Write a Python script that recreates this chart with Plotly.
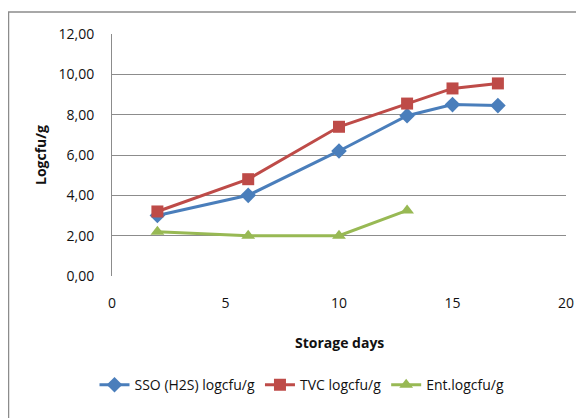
import plotly.graph_objects as go

days_sso = [2, 6, 10, 13, 15, 17]
sso = [3.0, 4.0, 6.2, 7.95, 8.5, 8.45]
days_tvc = [2, 6, 10, 13, 15, 17]
tvc = [3.2, 4.8, 7.4, 8.55, 9.3, 9.55]
days_ent = [2, 6, 10, 13]
ent = [2.2, 2.0, 2.0, 3.25]

fig = go.Figure()
fig.add_trace(go.Scatter(x=days_sso, y=sso, name="SSO (H2S) logcfu/g", mode="lines+markers",
                         line=dict(color="#4A7EBB", width=3),
                         marker=dict(symbol="diamond", size=12, color="#4A7EBB")))
fig.add_trace(go.Scatter(x=days_tvc, y=tvc, name="TVC logcfu/g", mode="lines+markers",
                         line=dict(color="#BE4B48", width=3),
                         marker=dict(symbol="square", size=12, color="#BE4B48")))
fig.add_trace(go.Scatter(x=days_ent, y=ent, name="Ent.logcfu/g", mode="lines+markers",
                         line=dict(color="#98B954", width=3),
                         marker=dict(symbol="triangle-up", size=12, color="#98B954")))

font = "Open Sans, Liberation Sans, Arial"
# page has an 8px body margin; image coords = figure coords + 8
OFF = 8
PL, PR, PT, PB = 112, 566, 34, 276  # plot area in image pixels
W, H = PR - PL, PB - PT
fig.update_layout(
    width=584, height=418,
    margin=dict(l=PL - OFF, r=584 - (PR - OFF), t=PT - OFF, b=418 - (PB - OFF), autoexpand=False),
    paper_bgcolor="white", plot_bgcolor="white",
    separators=",.",
    font=dict(family=font, size=12, color="#111"),
    showlegend=True,
    legend=dict(orientation="h", x=(302 - PL) / W, xanchor="center", y=-0.385, yanchor="top",
                font=dict(size=14), tracegroupgap=0),
    xaxis=dict(range=[0, 20], dtick=5, showgrid=False, zeroline=False,
               showline=False, ticks="", tickfont=dict(size=14),
               ticklabelstandoff=17, automargin=False),
    yaxis=dict(range=[0, 12], dtick=2, tickformat=".2f", showgrid=True,
               gridcolor="#8c8c8c", gridwidth=1, zeroline=False,
               showline=True, linecolor="#8c8c8c", linewidth=1, ticks="",
               tickfont=dict(size=14), ticklabelstandoff=14, automargin=False),
    annotations=[
        dict(text="<b>Storage days</b>", xref="paper", yref="paper",
             x=0.5, y=(PB - 342) / H, xanchor="center", yanchor="middle",
             showarrow=False, font=dict(size=14)),
        dict(text="<b>Logcfu/g</b>", xref="paper", yref="paper",
             x=(40 - PL) / W, y=(PB - 155) / H, xanchor="center", yanchor="middle",
             textangle=-90, showarrow=False, font=dict(size=14)),
    ],
    shapes=[dict(type="rect", xref="paper", yref="paper",
                 x0=(8.5 - PL) / W, x1=(620 - PL) / W,
                 y0=(PB - 440) / H, y1=(PB - 12) / H,
                 line=dict(color="#8c8c8c", width=1.5), layer="below")],
)
fig.write_html("out.html")
